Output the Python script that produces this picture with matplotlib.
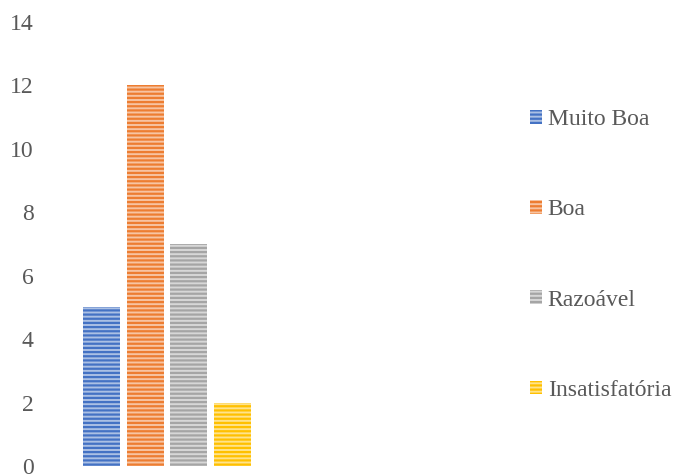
import matplotlib
matplotlib.use("Agg")
from matplotlib import pyplot as plt
import matplotlib.colors as mcolors

categories = ["Muito Boa", "Boa", "Razoável", "Insatisfatória"]
values = [5, 12, 7, 2]
colors = ["#4472C4", "#ED7D31", "#A5A5A5", "#FFC000"]
yticks = [0, 2, 4, 6, 8, 10, 12, 14]

plt.rcParams['font.family'] = ['Liberation Serif', 'DejaVu Serif']
plt.rcParams['hatch.linewidth'] = 1.6
text_color = "#595959"


def lighten(c, amount):
    r, g, b = mcolors.to_rgb(c)
    return (r + (1 - r) * amount, g + (1 - g) * amount, b + (1 - b) * amount)


fig = plt.figure(figsize=(6.73, 4.74), dpi=100)
ax = fig.add_axes([60 / 673, 8 / 474, 215 / 673, 444 / 474])

for i, (cat, val, col) in enumerate(zip(categories, values, colors)):
    ax.bar(i, val, width=0.85, color=lighten(col, 0.55), edgecolor=col,
           hatch="----", linewidth=0, label=cat)

ax.set_ylim(0, 14)
ax.set_xlim(-0.95, 3.97)
ax.set_yticks(yticks)
ax.set_xticks([])
for s in ax.spines.values():
    s.set_visible(False)
ax.tick_params(axis="y", length=0, pad=19, labelsize=17, labelcolor=text_color)

leg = fig.legend(loc="center left", bbox_to_anchor=(530 / 673, (474 - 255) / 474),
                 frameon=False, fontsize=17, labelspacing=2.93, handlelength=0.5,
                 handleheight=0.5, handletextpad=0.25, borderpad=0, borderaxespad=0)
for t in leg.get_texts():
    t.set_color(text_color)

plt.savefig("out.png", dpi=100)
